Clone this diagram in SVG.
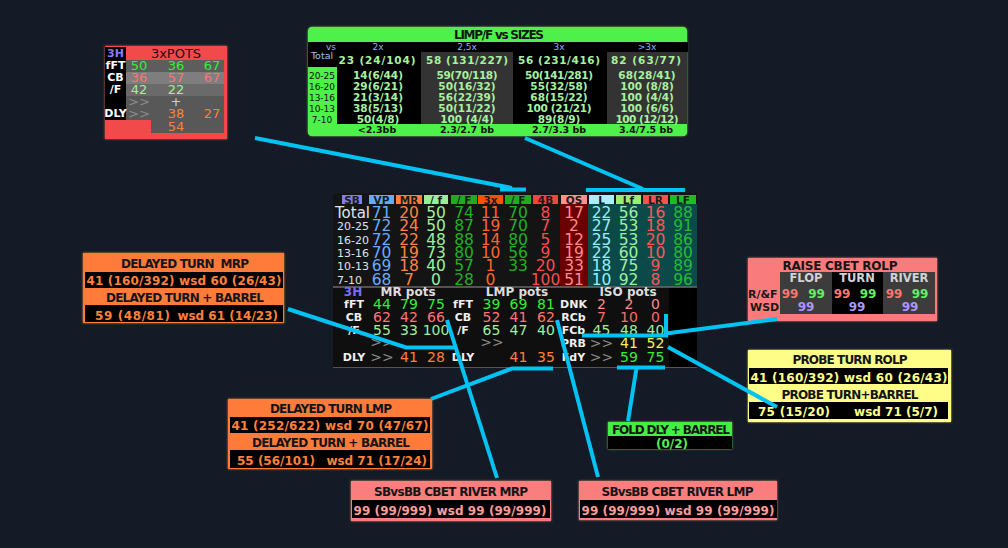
<svg xmlns="http://www.w3.org/2000/svg" width="1008" height="548" viewBox="0 0 1008 548">
<style>
text{font-family:"DejaVu Sans","Liberation Sans",sans-serif}
.b{font-weight:bold}
.m{text-anchor:middle}
.e{text-anchor:end}
.box{stroke:#2a2a2a;stroke-width:1.5}
.ttl{font-weight:bold;font-size:12px;fill:#151515;text-anchor:middle}
.hud{font-size:15.5px;text-anchor:middle}
.hb{font-size:14px;text-anchor:middle}
.hl{font-size:11px;font-weight:bold;fill:#f0f0f0;text-anchor:middle}
.hh{font-size:10.5px;font-weight:bold;fill:#1a1a1a;text-anchor:middle}
.rl{font-family:"Liberation Sans",sans-serif;font-size:11px;fill:#dde4f0}
.vp{fill:#68aaff}.mr{fill:#ff8244}.lg{fill:#9ef09e}.gF{fill:#22b022}.x3{fill:#ff6428}
.b4{fill:#ff4a4a}.os{fill:#ff8c8c}.cy{fill:#98eef8}.lr{fill:#ff5555}.LF{fill:#22bb33}
.gg{fill:#36ee36}.sal{fill:#ff7474}.gr{fill:#8a8a8a}.ye{fill:#ffee55}.or{fill:#ff8038}
.lt{font-size:10.5px;font-weight:bold;fill:#a8f0a0;text-anchor:middle}
.con{stroke:#00c3f3;stroke-width:4;fill:none}
</style>
<rect width="1008" height="548" fill="#141b27"/>

<!-- 3xPOTS -->
<g id="pots3x">
<rect class="box" x="104" y="45" width="124" height="95" fill="#f24a4a" rx="2"/>
<text x="176" y="58" font-size="13" class="m" fill="#111">3xPOTS</text>
<rect x="105" y="47" width="21" height="73" fill="#000"/>
<rect x="126" y="60" width="98" height="12" fill="#5d5d5d"/>
<rect x="126" y="72" width="98" height="12" fill="#7e7e7e"/>
<rect x="126" y="84" width="98" height="12" fill="#6a6a6a"/>
<rect x="126" y="96" width="98" height="24" fill="#585858"/>
<rect x="151" y="120" width="73" height="13" fill="#585858"/>
<text x="115.5" y="57" class="b m" font-size="11" fill="#8a7cff">3H</text>
<g class="b m" font-size="11" fill="#fff">
<text x="115.5" y="69">fFT</text><text x="115.5" y="81">CB</text><text x="115.5" y="93">/F</text><text x="115.5" y="117">DLY</text>
</g>
<g class="m" font-size="13">
<text x="139" y="70" class="gg">50</text><text x="176" y="70" class="gg">36</text><text x="212" y="70" class="gg">67</text>
<text x="139" y="82" class="sal">36</text><text x="176" y="82" class="sal">57</text><text x="212" y="82" class="sal">67</text>
<text x="139" y="94" class="lg">42</text><text x="176" y="94" class="lg">22</text>
<text x="139" y="106" class="gr">&gt;&gt;</text><text x="176" y="106" fill="#cfcfcf">+</text>
<text x="139" y="118" class="gr">&gt;&gt;</text><text x="176" y="118" class="or">38</text><text x="212" y="118" class="or">27</text>
<text x="176" y="131" class="or">54</text>
</g>
</g>

<!-- LIMP/F vs SIZES -->
<g id="limp">
<rect class="box" x="307" y="26" width="381" height="111" fill="#4ef04a" rx="5"/>
<text x="499" y="39" class="ttl" font-size="12.5" textLength="90">LIMP/F vs SIZES</text>
<rect x="308" y="42" width="380" height="10" fill="#000"/>
<rect x="308" y="52" width="29" height="15" fill="#000"/>
<rect x="337" y="52" width="84" height="72" fill="#000"/>
<rect x="421" y="52" width="92" height="72" fill="#333"/>
<rect x="513" y="52" width="94" height="72" fill="#000"/>
<rect x="607" y="52" width="80" height="72" fill="#333"/>
<g class="m" font-size="9" fill="#8fb0ff">
<text x="331" y="50">vs</text><text x="378" y="50">2x</text><text x="467" y="50">2,5x</text><text x="559" y="50">3x</text><text x="647" y="50">&gt;3x</text>
</g>
<text x="322" y="59" class="m" font-size="9.5" fill="#9cc0ff">Total</text>
<g class="m" font-size="9" fill="#111">
<text x="322" y="78.5">20-25</text><text x="322" y="89.5">16-20</text><text x="322" y="100.5">13-16</text><text x="322" y="111.5">10-13</text><text x="322" y="122.5">7-10</text>
</g>
<g class="lt" font-size="12.5">
<text x="377" y="64" textLength="77">23 (24/104)</text><text x="467" y="64" textLength="82">58 (131/227)</text><text x="559" y="64" textLength="82">56 (231/416)</text><text x="646" y="64" textLength="70">82 (63/77)</text>
</g>
<g class="lt">
<text x="378" y="79">14(6/44)</text><text x="378" y="90">29(6/21)</text><text x="378" y="101">21(3/14)</text><text x="378" y="112">38(5/13)</text><text x="378" y="123">50(4/8)</text>
<text x="467" y="79" textLength="61">59(70/118)</text><text x="467" y="90">50(16/32)</text><text x="467" y="101">56(22/39)</text><text x="467" y="112">50(11/22)</text><text x="467" y="123">100 (4/4)</text>
<text x="559" y="79" textLength="68">50(141/281)</text><text x="559" y="90">55(32/58)</text><text x="559" y="101">68(15/22)</text><text x="559" y="112" textLength="65">100 (21/21)</text><text x="559" y="123">89(8/9)</text>
<text x="647" y="79">68(28/41)</text><text x="647" y="90">100 (8/8)</text><text x="647" y="101">100 (4/4)</text><text x="647" y="112">100 (6/6)</text><text x="647" y="123" textLength="63">100 (12/12)</text>
</g>
<g class="b m" font-size="9.5" fill="#111">
<text x="377" y="133">&lt;2.3bb</text><text x="467" y="133">2.3/2.7 bb</text><text x="559" y="133">2.7/3.3 bb</text><text x="646" y="133">3.4/7.5 bb</text>
</g>
</g>

<!-- HUD -->
<g id="hud">
<rect x="333" y="193" width="364" height="175" fill="#141414"/>
<rect x="560" y="204" width="28" height="83" fill="#6a0000"/>
<rect x="588" y="204" width="109" height="83" fill="#0c4a4a"/>
<rect x="333" y="287" width="364" height="81" fill="#0f0f0f"/>
<rect x="669" y="288" width="28" height="79" fill="#000"/>
<line x1="333" y1="287" x2="697" y2="287" stroke="#6a6a6a" stroke-width="1.5"/>
<line x1="333" y1="367.5" x2="697" y2="367.5" stroke="#555" stroke-width="1"/>
<rect x="342" y="195" width="20" height="9" fill="#8080e8"/>
<rect x="369" y="195" width="25" height="9" fill="#66aaff"/>
<rect x="396" y="195" width="26" height="9" fill="#ff8040"/>
<rect x="424" y="195" width="24" height="9" fill="#98f098"/>
<rect x="451" y="195" width="26" height="9" fill="#22aa22"/>
<rect x="478" y="195" width="25" height="9" fill="#ff5000"/>
<rect x="505" y="195" width="26" height="9" fill="#22aa22"/>
<rect x="533" y="195" width="25" height="9" fill="#ff4040"/>
<rect x="561" y="195" width="26" height="9" fill="#ff9090"/>
<rect x="589" y="195" width="25" height="9" fill="#a8f0ff"/>
<rect x="616" y="195" width="25" height="9" fill="#98f070"/>
<rect x="643" y="195" width="25" height="9" fill="#ff5050"/>
<rect x="670" y="195" width="26" height="9" fill="#22bb22"/>
<g class="hh">
<text x="352" y="203.5">SB</text><text x="381.5" y="203.5">VP</text><text x="409" y="203.5">MR</text><text x="436" y="203.5">/ f</text><text x="464" y="203.5">/ F</text><text x="490.5" y="203.5">3x</text><text x="518" y="203.5">/ F</text><text x="545.5" y="203.5">4B</text><text x="574" y="203.5">OS</text><text x="601.5" y="203.5">L</text><text x="628.5" y="203.5">Lf</text><text x="655.5" y="203.5">LR</text><text x="683" y="203.5">LF</text>
</g>
<text x="335" y="218" font-family="Liberation Sans,sans-serif" font-size="15" fill="#dde4f0">Total</text>
<g class="rl">
<text x="337" y="230">20-25</text><text x="337" y="243.5">16-20</text><text x="337" y="257">13-16</text><text x="337" y="270">10-13</text><text x="337" y="283.5">7-10</text>
</g>
<g class="hud vp"><text x="381.5" y="218">71</text><text x="381.5" y="231">72</text><text x="381.5" y="244.5">72</text><text x="381.5" y="258">70</text><text x="381.5" y="271">69</text><text x="381.5" y="284.5">68</text></g>
<g class="hud mr"><text x="409" y="218">20</text><text x="409" y="231">24</text><text x="409" y="244.5">22</text><text x="409" y="258">19</text><text x="409" y="271">18</text><text x="409" y="284.5">7</text></g>
<g class="hud lg"><text x="436" y="218">50</text><text x="436" y="231">50</text><text x="436" y="244.5">48</text><text x="436" y="258">73</text><text x="436" y="271">40</text><text x="436" y="284.5">0</text></g>
<g class="hud gF"><text x="464" y="218">74</text><text x="464" y="231">87</text><text x="464" y="244.5">88</text><text x="464" y="258">80</text><text x="464" y="271">57</text><text x="464" y="284.5">28</text></g>
<g class="hud x3"><text x="490.5" y="218">11</text><text x="490.5" y="231">19</text><text x="490.5" y="244.5">14</text><text x="490.5" y="258">10</text><text x="490.5" y="271">1</text><text x="490.5" y="284.5">0</text></g>
<g class="hud gF"><text x="518" y="218">70</text><text x="518" y="231">70</text><text x="518" y="244.5">80</text><text x="518" y="258">56</text><text x="518" y="271">33</text></g>
<g class="hud b4"><text x="545.5" y="218">8</text><text x="545.5" y="231">7</text><text x="545.5" y="244.5">5</text><text x="545.5" y="258">9</text><text x="545.5" y="271">20</text><text x="545.5" y="284.5">100</text></g>
<g class="hud os"><text x="574" y="218">17</text><text x="574" y="231">2</text><text x="574" y="244.5">12</text><text x="574" y="258">19</text><text x="574" y="271">33</text><text x="574" y="284.5">51</text></g>
<g class="hud cy"><text x="601.5" y="218">22</text><text x="601.5" y="231">27</text><text x="601.5" y="244.5">25</text><text x="601.5" y="258">22</text><text x="601.5" y="271">18</text><text x="601.5" y="284.5">10</text></g>
<g class="hud lg"><text x="628.5" y="218">56</text><text x="628.5" y="231">53</text><text x="628.5" y="244.5">53</text><text x="628.5" y="258">60</text><text x="628.5" y="271">75</text><text x="628.5" y="284.5">92</text></g>
<g class="hud lr"><text x="655.5" y="218">16</text><text x="655.5" y="231">18</text><text x="655.5" y="244.5">20</text><text x="655.5" y="258">10</text><text x="655.5" y="271">9</text><text x="655.5" y="284.5">8</text></g>
<g class="hud LF"><text x="683" y="218">88</text><text x="683" y="231">91</text><text x="683" y="244.5">86</text><text x="683" y="258">80</text><text x="683" y="271">89</text><text x="683" y="284.5">96</text></g>

<text x="353" y="296" class="b m" font-size="12" fill="#7a6cff">3H</text>
<g class="b m" font-size="12" fill="#dcdcdc">
<text x="408" y="296">MR pots</text><text x="517" y="296">LMP pots</text><text x="628" y="296">ISO pots</text>
</g>
<g class="hl">
<text x="354" y="307.5">fFT</text><text x="354" y="320.5">CB</text><text x="354" y="333.5">/F</text><text x="354" y="360.5">DLY</text>
<text x="463" y="307.5">fFT</text><text x="463" y="320.5">CB</text><text x="463" y="333.5">/F</text><text x="463" y="360.5">DLY</text>
<text x="573.5" y="307.5">DNK</text><text x="573.5" y="320.5">RCb</text><text x="573.5" y="333.5">FCb</text><text x="573.5" y="347">PRB</text><text x="573.5" y="360.5">FdY</text>
</g>
<g class="hb">
<text x="382" y="309" class="gg">44</text><text x="409" y="309" class="gg">79</text><text x="436" y="309" class="gg">75</text>
<text x="382" y="322" class="sal">62</text><text x="409" y="322" class="sal">42</text><text x="436" y="322" class="sal">66</text>
<text x="382" y="335" class="lg">55</text><text x="409" y="335" class="lg">33</text><text x="436" y="335" class="lg">100</text>
<text x="382" y="347" class="gr">&gt;&gt;</text>
<text x="382" y="362" class="gr">&gt;&gt;</text><text x="409" y="362" class="or">41</text><text x="436" y="362" class="or">28</text>

<text x="491.5" y="309" class="gg">39</text><text x="518.5" y="309" class="gg">69</text><text x="546" y="309" class="gg">81</text>
<text x="491.5" y="322" class="sal">52</text><text x="518.5" y="322" class="sal">41</text><text x="546" y="322" class="sal">62</text>
<text x="491.5" y="335" class="lg">65</text><text x="518.5" y="335" class="lg">47</text><text x="546" y="335" class="lg">40</text>
<text x="492" y="347" class="gr">&gt;&gt;</text>
<text x="518.5" y="362" class="or">41</text><text x="546" y="362" class="or">35</text>

<text x="601.5" y="309" fill="#ff8a8a">2</text><text x="629" y="309" fill="#ff8a8a">2</text><text x="655.5" y="309" fill="#ff8a8a">0</text>
<text x="601.5" y="322" fill="#ff6a6a">7</text><text x="629" y="322" fill="#ff6a6a">10</text><text x="655.5" y="322" fill="#ff6a6a">0</text>
<text x="601.5" y="335" class="lg">45</text><text x="629" y="335" class="lg">48</text><text x="655.5" y="335" class="lg">40</text>
<text x="601.5" y="348" class="gr">&gt;&gt;</text><text x="629" y="348" class="ye">41</text><text x="655.5" y="348" class="ye">52</text>
<text x="601.5" y="362" class="gr">&gt;&gt;</text><text x="629" y="362" class="gg">59</text><text x="655.5" y="362" class="gg">75</text>
</g>
</g>

<!-- DELAYED TURN MRP -->
<g id="dtmrp">
<rect class="box" x="82" y="252" width="203" height="72" fill="#fe7b3a" rx="2"/>
<text x="185" y="268" class="ttl" textLength="128" style="white-space:pre">DELAYED TURN  MRP</text>
<rect x="85" y="272" width="198" height="16" fill="#000"/>
<text x="184" y="285" class="b m or" font-size="12" textLength="195">41 (160/392) wsd 60 (26/43)</text>
<text x="185" y="302" class="ttl" textLength="158">DELAYED TURN + BARREL</text>
<rect x="85" y="305" width="198" height="17" fill="#000"/>
<text x="95" y="320" class="b or" font-size="12" textLength="75">59 (48/81)</text>
<text x="278" y="320" class="b e or" font-size="12">wsd 61 (14/23)</text>
</g>

<!-- DELAYED TURN LMP -->
<g id="dtlmp">
<rect class="box" x="227" y="398" width="206" height="72" fill="#fe7b3a" rx="2"/>
<text x="331" y="413" class="ttl" textLength="122">DELAYED TURN LMP</text>
<rect x="230" y="417" width="200" height="16" fill="#000"/>
<text x="330" y="430" class="b m or" font-size="12" textLength="197">41 (252/622) wsd 70 (47/67)</text>
<text x="331" y="447" class="ttl" textLength="158">DELAYED TURN + BARREL</text>
<rect x="230" y="450" width="200" height="18" fill="#000"/>
<text x="237" y="465" class="b or" font-size="12" textLength="78">55 (56/101)</text>
<text x="427" y="465" class="b e or" font-size="12">wsd 71 (17/24)</text>
</g>

<!-- RAISE CBET ROLP -->
<g id="raise">
<rect class="box" x="747" y="257" width="191" height="65" fill="#fa7b7b" rx="2"/>
<text x="840" y="270" class="ttl" font-size="13" textLength="115">RAISE CBET ROLP</text>
<rect x="780" y="272" width="52" height="42" fill="#3c3c3c"/>
<rect x="832" y="272" width="51" height="42" fill="#000"/>
<rect x="883" y="272" width="52" height="42" fill="#3c3c3c"/>
<g class="b m" font-size="11.5" fill="#d2d2d2">
<text x="806" y="282">FLOP</text><text x="857" y="282">TURN</text><text x="909" y="282">RIVER</text>
</g>
<g class="b" font-size="11" fill="#1a1a1a">
<text x="748" y="298">R/&amp;F</text><text x="750" y="311">WSD</text>
</g>
<g class="b m" font-size="12">
<text x="790" y="298" class="sal">99</text><text x="816.5" y="298" fill="#66ee66">99</text>
<text x="842" y="298" class="sal">99</text><text x="868" y="298" fill="#66ee66">99</text>
<text x="894" y="298" class="sal">99</text><text x="920" y="298" fill="#66ee66">99</text>
<text x="806" y="311" fill="#a898ff">99</text><text x="857" y="311" fill="#a898ff">99</text><text x="910" y="311" fill="#a898ff">99</text>
</g>
</g>

<!-- PROBE TURN ROLP -->
<g id="probe">
<rect class="box" x="747" y="349" width="205" height="74" fill="#fdfd88" rx="2"/>
<text x="850" y="364" class="ttl" textLength="115">PROBE TURN ROLP</text>
<rect x="749" y="368" width="199" height="16" fill="#000"/>
<text x="849" y="382" class="b m" font-size="12" fill="#ffff8c" textLength="197">41 (160/392) wsd 60 (26/43)</text>
<text x="850" y="399" class="ttl" textLength="137">PROBE TURN+BARREL</text>
<rect x="749" y="402" width="199" height="17" fill="#000"/>
<text x="758" y="416" class="b" font-size="12" fill="#ffff8c" textLength="72">75 (15/20)</text>
<text x="938" y="416" class="b e" font-size="12" fill="#ffff8c">wsd 71 (5/7)</text>
</g>

<!-- FOLD DLY + BARREL -->
<g id="fold">
<rect class="box" x="607" y="421" width="126" height="29" fill="#44ee44" rx="2"/>
<text x="671" y="433.5" class="ttl" font-size="11.5" textLength="118">FOLD DLY + BARREL</text>
<rect x="608" y="436" width="124" height="13" fill="#000"/>
<text x="672" y="447.5" class="b m" font-size="12" fill="#55ee55">(0/2)</text>
</g>

<!-- SBvsBB CBET RIVER MRP -->
<g id="sbmrp">
<rect class="box" x="350" y="480" width="202" height="42" fill="#fb7e7e" rx="2"/>
<text x="451" y="495.5" class="ttl" textLength="154">SBvsBB CBET RIVER MRP</text>
<rect x="352" y="500" width="198" height="18" fill="#000"/>
<text x="450" y="515" class="b m" font-size="12" fill="#ff9b9b" textLength="193">99 (99/999) wsd 99 (99/999)</text>
</g>

<!-- SBvsBB CBET RIVER LMP -->
<g id="sblmp">
<rect class="box" x="578" y="480" width="200" height="41" fill="#fb7e7e" rx="2"/>
<text x="677.5" y="495.5" class="ttl" textLength="152">SBvsBB CBET RIVER LMP</text>
<rect x="580" y="500" width="197" height="18" fill="#000"/>
<text x="678" y="515" class="b m" font-size="12" fill="#ff9b9b" textLength="193">99 (99/999) wsd 99 (99/999)</text>
</g>

<!-- connectors -->
<g id="connectors" class="con">
<polyline points="255,138 512,188"/>
<line x1="500" y1="189.5" x2="526" y2="189.5"/>
<polyline points="525,138 643,189"/>
<line x1="586" y1="190" x2="685" y2="190"/>
<polyline points="288,309 406,347.5 455,347.5"/>
<line x1="447" y1="320" x2="497" y2="478"/>
<line x1="557" y1="320" x2="598" y2="477"/>
<polyline points="431,399 512,368.5 553,368.5"/>
<line x1="617" y1="367.5" x2="665" y2="367.5"/>
<line x1="636.5" y1="368" x2="628" y2="421"/>
<polyline points="666,314 666,335.5 582,335.5"/>
<line x1="666" y1="333.5" x2="777" y2="319"/>
<line x1="668" y1="347" x2="777" y2="407"/>
</g>
</svg>
